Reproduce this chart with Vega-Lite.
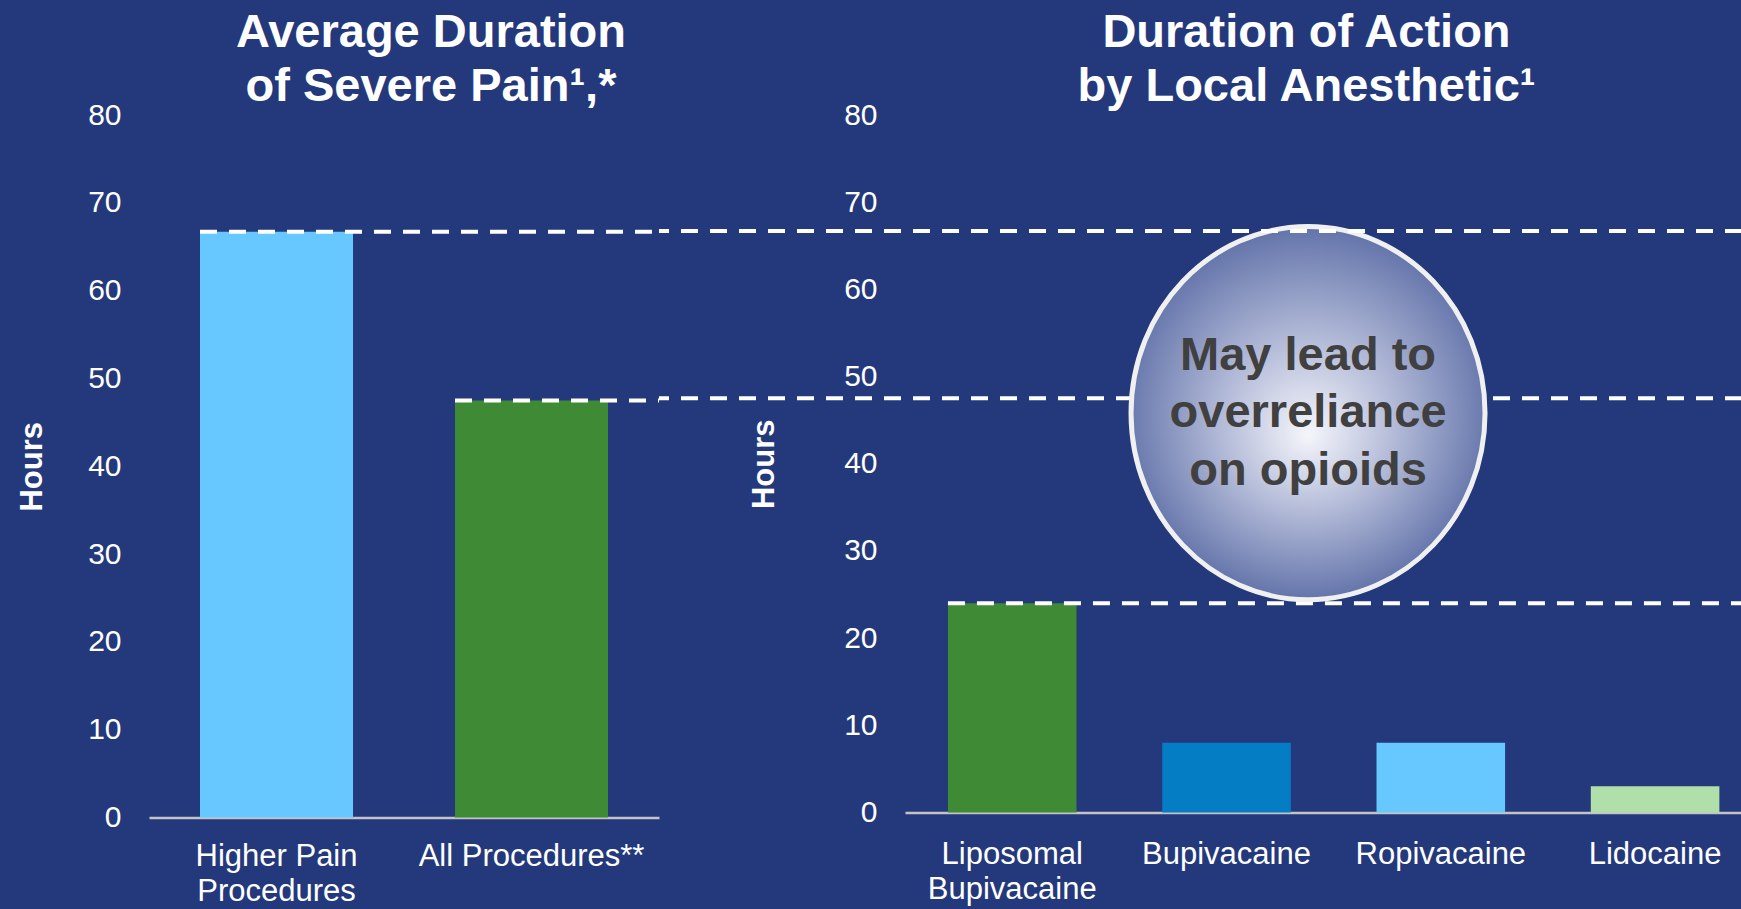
{
  "$schema": "https://vega.github.io/schema/vega-lite/v6.json",
  "background": "#24397c",
  "padding": {"left": 16, "top": 9, "right": 0, "bottom": 14},
  "autosize": {"type": "pad"},
  "bounds": "flush",
  "spacing": 0,
  "resolve": {"scale": {"color": "independent"}},
  "config": {
    "view": {"stroke": null},
    "font": "Liberation Sans",
    "axis": {
      "ticks": false,
      "grid": false,
      "domainColor": "#c4c4c4",
      "domainWidth": 2.5,
      "labelColor": "white",
      "labelFont": "Liberation Sans",
      "labelLimit": 500,
      "titleColor": "white",
      "titleFont": "Liberation Sans",
      "titleFontWeight": "bold",
      "titleFontSize": 31
    },
    "axisY": {"domain": false, "labelFontSize": 30, "labelPadding": 28},
    "axisX": {"labelFontSize": 31, "labelAngle": 0, "title": null, "labelLineHeight": 35},
    "title": {
      "color": "white",
      "font": "Liberation Sans",
      "fontSize": 47,
      "fontWeight": "bold",
      "lineHeight": 54,
      "frame": "group",
      "anchor": "middle",
      "baseline": "bottom",
      "offset": -11
    }
  },
  "datasets": {
    "pain": [
      {"cat": "Higher Pain Procedures", "hours": 66.7},
      {"cat": "All Procedures**", "hours": 47.5}
    ],
    "anesthetic": [
      {"cat": "Liposomal Bupivacaine", "hours": 24},
      {"cat": "Bupivacaine", "hours": 8},
      {"cat": "Ropivacaine", "hours": 8},
      {"cat": "Lidocaine", "hours": 3}
    ],
    "callout": [
      {"cat": "Bupivacaine", "hours": 45.8, "note": "May lead to\noverreliance\non opioids"}
    ]
  },
  "hconcat": [
    {
      "title": {"text": ["Average Duration", "of Severe Pain¹,*"], "dx": 27},
      "width": 510,
      "height": 702.5,
      "data": {"name": "pain"},
      "encoding": {
        "y": {
          "field": "hours",
          "type": "quantitative",
          "scale": {"domain": [0, 80], "nice": false},
          "axis": {"title": "Hours", "values": [0, 10, 20, 30, 40, 50, 60, 70, 80], "titlePadding": 39}
        }
      },
      "layer": [
        {
          "mark": {"type": "bar"},
          "encoding": {
            "x": {
              "field": "cat",
              "type": "nominal",
              "sort": null,
              "scale": {"paddingInner": 0.4, "paddingOuter": 0.2},
              "axis": {
                "labelPadding": 24,
                "labelExpr": "datum.value == 'Higher Pain Procedures' ? ['Higher Pain', 'Procedures'] : datum.label"
              }
            },
            "color": {
              "field": "cat",
              "type": "nominal",
              "scale": {"domain": ["Higher Pain Procedures", "All Procedures**"], "range": ["#66c8ff", "#3f8a35"]},
              "legend": null
            }
          }
        },
        {
          "mark": {"type": "rule", "color": "white", "strokeDash": [17, 12], "strokeWidth": 4},
          "encoding": {
            "x": {"field": "cat", "type": "nominal", "sort": null, "bandPosition": 0},
            "x2": {"value": "width"}
          }
        }
      ]
    },
    {
      "title": {"text": ["Duration of Action", "by Local Anesthetic¹"], "dx": 106},
      "width": 1083,
      "height": 697.5,
      "encoding": {
        "y": {
          "field": "hours",
          "type": "quantitative",
          "scale": {"domain": [0, 80], "nice": false},
          "axis": {"title": "Hours", "values": [0, 10, 20, 30, 40, 50, 60, 70, 80], "offset": -246, "titlePadding": 63}
        }
      },
      "layer": [
        {
          "data": {"name": "anesthetic"},
          "mark": {"type": "bar"},
          "encoding": {
            "x": {
              "field": "cat",
              "type": "nominal",
              "sort": null,
              "scale": {
                "domain": ["Liposomal Bupivacaine", "Bupivacaine", "Ropivacaine", "Lidocaine"],
                "range": [246, 1083],
                "paddingInner": 0.4,
                "paddingOuter": 0.153,
                "align": 0.655
              },
              "axis": {
                "labelPadding": 27,
                "labelExpr": "datum.value == 'Liposomal Bupivacaine' ? ['Liposomal', 'Bupivacaine'] : datum.label"
              }
            },
            "color": {
              "field": "cat",
              "type": "nominal",
              "scale": {
                "domain": ["Liposomal Bupivacaine", "Bupivacaine", "Ropivacaine", "Lidocaine"],
                "range": ["#3f8a35", "#057dc5", "#66c8ff", "#b0dfaa"]
              },
              "legend": null
            }
          }
        },
        {
          "data": {"name": "anesthetic"},
          "transform": [{"filter": "datum.cat == 'Liposomal Bupivacaine'"}],
          "mark": {"type": "rule", "color": "white", "strokeDash": [17, 12], "strokeWidth": 4},
          "encoding": {
            "x": {"field": "cat", "type": "nominal", "bandPosition": 0},
            "x2": {"value": "width"}
          }
        },
        {
          "data": {"name": "pain"},
          "transform": [{"filter": "datum.hours < 60"}],
          "mark": {"type": "rule", "color": "white", "strokeDash": [17, 12], "strokeWidth": 4},
          "encoding": {}
        },
        {
          "data": {"name": "callout"},
          "mark": {
            "type": "point",
            "shape": "M-1,0A1,1.054,0,1,1,1,0A1,1.054,0,1,1,-1,0Z",
            "size": 125316,
            "filled": true,
            "opacity": 1,
            "fillOpacity": 1,
            "fill": {
              "gradient": "radial",
              "x1": 0.5, "y1": 0.56, "r1": 0,
              "x2": 0.5, "y2": 0.5, "r2": 0.5,
              "stops": [
                {"offset": 0, "color": "#f5f6fb"},
                {"offset": 0.5, "color": "#aeb6d5"},
                {"offset": 1, "color": "#6374aa"}
              ]
            },
            "stroke": "#f0f0f0",
            "strokeWidth": 5
          },
          "encoding": {
            "x": {"field": "cat", "type": "nominal", "bandPosition": 1.134}
          }
        },
        {
          "data": {"name": "callout"},
          "mark": {
            "type": "text",
            "font": "Liberation Sans",
            "fontSize": 47,
            "fontWeight": "bold",
            "color": "#404040",
            "align": "center",
            "baseline": "middle",
            "lineHeight": 57.5,
            "lineBreak": "\n",
            "dy": -57.5
          },
          "encoding": {
            "x": {"field": "cat", "type": "nominal", "bandPosition": 1.134},
            "text": {"field": "note", "type": "nominal"}
          }
        },
        {
          "data": {"name": "pain"},
          "transform": [{"filter": "datum.hours > 60"}],
          "mark": {"type": "rule", "color": "white", "strokeDash": [17, 12], "strokeWidth": 4},
          "encoding": {}
        }
      ]
    }
  ]
}
